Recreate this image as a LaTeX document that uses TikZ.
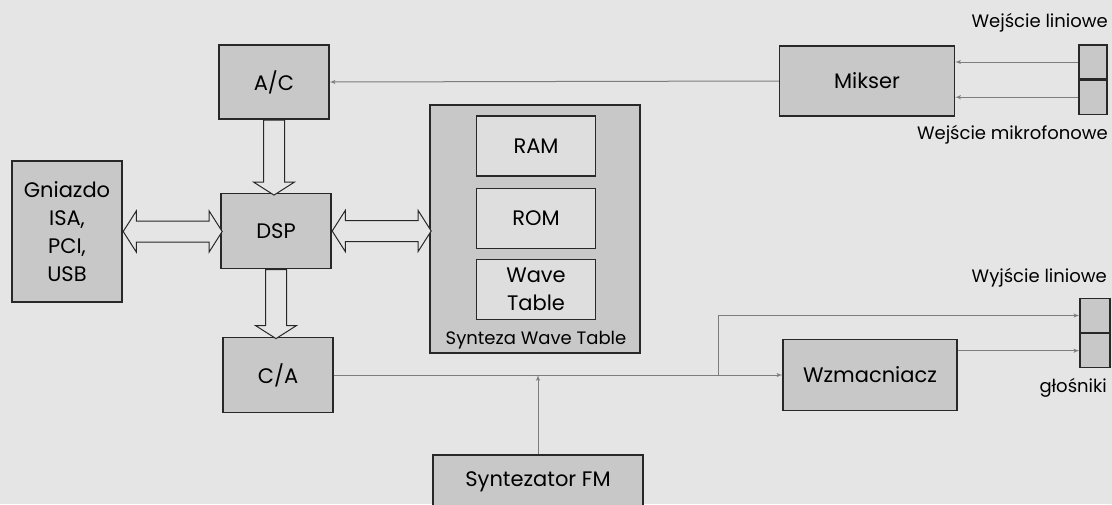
\documentclass[tikz,border=0pt]{standalone}
\usepackage{fontspec}
\setmainfont{Poppins}
\usetikzlibrary{shapes,arrows,positioning}

\definecolor{bgcol}{RGB}{229,229,229}
\definecolor{boxcol}{RGB}{200,200,200}
\definecolor{cellcol}{RGB}{222,222,222}
\definecolor{wirecol}{RGB}{125,125,125}
\definecolor{edgecol}{RGB}{40,40,40}

\begin{document}
\begin{tikzpicture}[x=1pt, y=-1pt, font=\fontsize{21}{28}\selectfont]
        % Styles
        \tikzstyle{block} = [rectangle, draw=edgecol, line width=1.2pt, fill=boxcol, inner sep=0pt, align=center]
        \tikzstyle{cell} = [block, fill=cellcol, minimum width=119pt, minimum height=60pt]
        \tikzstyle{jack} = [block, minimum width=28pt, minimum height=34pt]
        \tikzstyle{wire} = [draw=wirecol, line width=1pt, -latex']
        \tikzstyle{bus} = [single arrow, draw=edgecol, fill=bgcol, line width=1pt, inner sep=10pt, single arrow head extend=10pt, single arrow tip angle=115]
        \tikzstyle{dbus} = [double arrow, draw=edgecol, fill=bgcol, line width=1pt, inner sep=10pt, double arrow head extend=10pt, double arrow tip angle=115]
        \tikzstyle{portlabel} = [inner sep=0pt, font=\fontsize{18}{20}\selectfont]

        \path [use as bounding box, fill=bgcol] (0,0) rectangle (1112,504);

        % Nodes
        \node [block, minimum width=110pt, minimum height=74pt] (ac) at (274,82) {A/C};
        \node [block, minimum width=110pt, minimum height=141pt] (gniazdo) at (67,231.5) {Gniazdo\\ISA,\\PCI,\\USB};
        \node [block, minimum width=110pt, minimum height=75pt] (dsp) at (276,231) {DSP};
        \node [block, minimum width=110pt, minimum height=75pt] (ca) at (278,375) {C/A};
        \node [block, minimum width=210pt, minimum height=248pt] (wave) at (535,229) {};
        \node [cell] (ram) at (536,146) {RAM};
        \node [cell, below=11pt of ram] (rom) {ROM};
        \node [cell, below=10pt of rom] (wt) {Wave\\Table};
        \node [font=\fontsize{18}{20}\selectfont, below=8pt of wt] (wtlabel) {Synteza Wave Table};
        \node [block, minimum width=210pt, minimum height=54pt] (fm) at (538,482) {Syntezator FM};
        \node [block, minimum width=175pt, minimum height=70pt] (mikser) at (867,81) {Mikser};
        \node [block, minimum width=174pt, minimum height=71pt] (wzm) at (870,375) {Wzmacniacz};
        \node [jack] (jlin) at (1093,62) {};
        \node [jack, below=0pt of jlin] (jmik) {};
        \node [jack, minimum width=30pt] (jwyj) at (1095,315.5) {};
        \node [jack, minimum width=30pt, below=0pt of jwyj] (jglos) {};
        \coordinate (branch) at (718,375);

        % Buses
        \node [bus, rotate=-90, anchor=tail, minimum height=75pt] (acbus) at (ac.south) {};
        \node [bus, rotate=-90, anchor=tail, minimum height=69pt] (cabus) at (dsp.south) {};
        \node [dbus, anchor=west, minimum height=99pt] (isabus) at (gniazdo.east) {};
        \node [dbus, anchor=west, minimum height=99pt] (wavebus) at (dsp.east) {};

        % Edges
        \path [wire] (mikser.west) -- (ac.east);
        \path [wire] (jlin.west) -- (jlin.west -| mikser.east);
        \path [wire] (jmik.west) -- (jmik.west -| mikser.east);
        \path [wire] (ca.east) -- (wzm.west);
        \path [wire] (fm.north) -- (fm.north |- ca.east);
        \path [wire] (branch) |- (jwyj.west);
        \path [wire] (jglos.west -| wzm.east) -- (jglos.west);

        % Labels
        \node [portlabel, anchor=east] (lblin) at (1108,23) {Wejście liniowe};
        \node [portlabel, anchor=east] (lbmik) at (1108,135) {Wejście mikrofonowe};
        \node [portlabel, anchor=east] (lbwyj) at (1107,278) {Wyjście liniowe};
        \node [portlabel, anchor=east] (lbglos) at (1107,388) {głośniki};
    \end{tikzpicture}
\end{document}
